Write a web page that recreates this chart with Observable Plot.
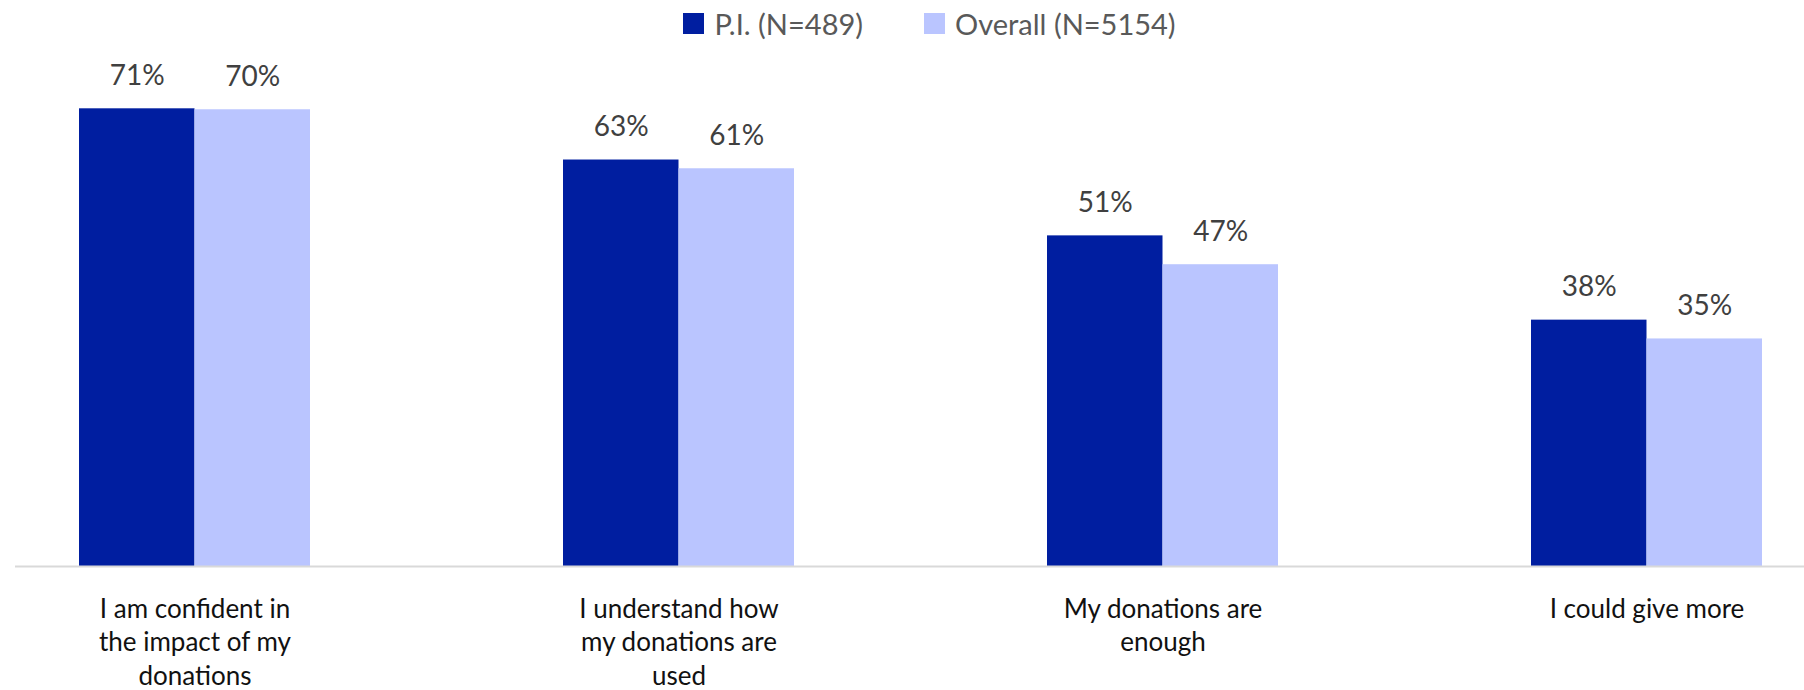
<!DOCTYPE html>
<html>
<head>
<meta charset="utf-8">
<script src="https://cdn.jsdelivr.net/npm/d3@7"></script>
<script src="https://cdn.jsdelivr.net/npm/@observablehq/plot@0.6"></script>
<style>
  html, body { margin: 0; padding: 0; background: #fff; }
  body { width: 1804px; height: 690px; overflow: hidden; font-family: Lato, "Open Sans", sans-serif; }
  #legend { height: 46px; display: flex; justify-content: center; align-items: center; gap: 61px; padding-left: 55px; box-sizing: border-box; font-size: 29px; color: #595959; }
  #legend .item { display: flex; align-items: center; gap: 10px; }
  #legend .sw { width: 21px; height: 21px; display: inline-block; }
  svg { display: block; }
</style>
</head>
<body>
<div id="legend"></div>
<div id="chart"></div>
<script>
const categories = [
  "I am confident in the impact of my donations",
  "I understand how my donations are used",
  "My donations are enough",
  "I could give more"
];
const categoryLabels = [
  "I am confident in\nthe impact of my\ndonations",
  "I understand how\nmy donations are\nused",
  "My donations are\nenough",
  "I could give more"
];
const seriesNames = ["P.I. (N=489)", "Overall (N=5154)"];
// bar heights (labels show the rounded values)
const piValues = [70.6, 62.7, 51.0, 38.0];
const overallValues = [70.45, 61.35, 46.55, 35.1];
const piLabels = ["71%", "63%", "51%", "38%"];
const overallLabels = ["70%", "61%", "47%", "35%"];
const colors = ["#001EA0", "#BAC5FF"];

const piRows = categories.map((c, i) => ({category: c, series: seriesNames[0], value: piValues[i], label: piLabels[i]}));
const overallRows = categories.map((c, i) => ({category: c, series: seriesNames[1], value: overallValues[i], label: overallLabels[i]}));
const labelRows = categories.map((c, i) => ({category: c, label: categoryLabels[i]}));

// legend
const legend = document.getElementById("legend");
seriesNames.forEach((s, i) => {
  const item = document.createElement("span");
  item.className = "item";
  const sw = document.createElement("span");
  sw.className = "sw";
  sw.style.background = colors[i];
  item.appendChild(sw);
  item.appendChild(document.createTextNode(s));
  legend.appendChild(item);
});

const bandHalf = 115.5;
const pxPerUnit = 6.483;
const plot = Plot.plot({
  width: 1804,
  height: 644,
  marginLeft: 15,
  marginRight: 0,
  marginTop: 0,
  marginBottom: 124,
  style: {fontFamily: "Lato, 'Open Sans', sans-serif", background: "#fff"},
  x: {domain: categories, range: [78, 1763.4], paddingInner: 0.5235, paddingOuter: 0, axis: null},
  y: {domain: [0, 80], range: [520, 520 - 80 * pxPerUnit], axis: null},
  marks: [
    Plot.barY(piRows, {x: "category", y: "value", fill: colors[0], insetRight: bandHalf}),
    Plot.barY(overallRows, {x: "category", y: "value", fill: colors[1], insetLeft: bandHalf}),
    Plot.ruleY([0], {stroke: "#d9d9d9", strokeWidth: 2}),
    Plot.text(piRows, {x: "category", y: "value", text: "label", dx: -bandHalf / 2, dy: -24, lineAnchor: "bottom", fontSize: 28, fill: "#404040"}),
    Plot.text(overallRows, {x: "category", y: "value", text: "label", dx: bandHalf / 2, dy: -24, lineAnchor: "bottom", fontSize: 28, fill: "#404040"}),
    Plot.text(labelRows, {x: "category", y: () => 0, text: "label", lineAnchor: "top", dy: 28, fontSize: 26, lineHeight: 1.28, fill: "#111"})
  ]
});
document.getElementById("chart").appendChild(plot);
</script>
</body>
</html>
